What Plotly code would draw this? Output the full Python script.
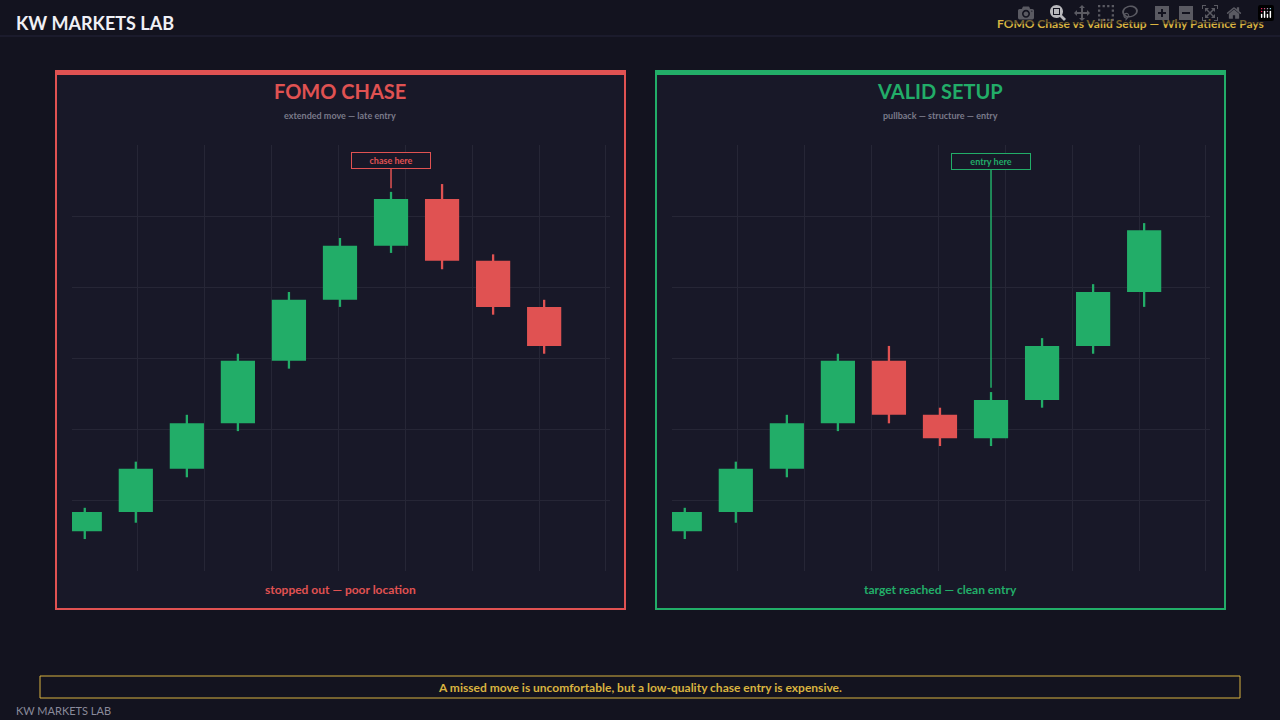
import plotly.graph_objects as go

# candle index positions
x_idx = list(range(10))

# FOMO chase panel
fomo_open = [0.56, 0.83, 1.44, 2.08, 2.96, 3.82, 4.58, 5.24, 4.37, 3.72]
fomo_close = [0.83, 1.44, 2.08, 2.96, 3.82, 4.58, 5.24, 4.37, 3.72, 3.17]
fomo_high = [0.89, 1.54, 2.20, 3.06, 3.93, 4.69, 5.34, 5.45, 4.46, 3.82]
fomo_low = [0.45, 0.68, 1.32, 1.97, 2.85, 3.72, 4.48, 4.25, 3.61, 3.06]

# Valid setup panel
valid_open = [0.56, 0.83, 1.44, 2.08, 2.96, 2.20, 1.87, 2.41, 3.17, 3.93]
valid_close = [0.83, 1.44, 2.08, 2.96, 2.20, 1.87, 2.41, 3.17, 3.93, 4.80]
valid_high = [0.89, 1.54, 2.20, 3.06, 3.17, 2.30, 2.52, 3.28, 4.04, 4.90]
valid_low = [0.45, 0.68, 1.32, 1.97, 2.08, 1.76, 1.76, 2.30, 3.06, 3.72]

RED = "#e05252"
GREEN = "#22ad68"
GOLD = "#d9b340"
BG = "#13131f"
PANEL = "#181828"
FONT = "Lato"

fig = go.Figure()


def add_candles(o, c, h, l, xa, ya):
    cols = [GREEN if cc >= oo else RED for oo, cc in zip(o, c)]
    fig.add_trace(go.Bar(x=x_idx, y=[hh - ll for hh, ll in zip(h, l)], base=l, width=0.045,
                         marker=dict(color=cols, line=dict(width=0)), xaxis=xa, yaxis=ya,
                         hoverinfo="skip", showlegend=False))
    fig.add_trace(go.Bar(x=x_idx, y=[cc - oo for oo, cc in zip(o, c)], base=o, width=0.67,
                         marker=dict(color=cols, line=dict(width=0)), xaxis=xa, yaxis=ya,
                         showlegend=False))


add_candles(fomo_open, fomo_close, fomo_high, fomo_low, "x", "y")
add_candles(valid_open, valid_close, valid_high, valid_low, "x2", "y2")

ax_common = dict(showgrid=True, gridcolor="#262636", gridwidth=1, zeroline=False,
                 showticklabels=False, showline=False, ticks="")
y_dom = [1 - 571 / 720, 1 - 145 / 720]

fig.update_layout(
    width=1280, height=720, margin=dict(l=0, r=0, t=0, b=0),
    paper_bgcolor=BG, plot_bgcolor=PANEL, barmode="overlay",
    font=dict(family=FONT),
    xaxis=dict(domain=[72 / 1280, 610 / 1280], range=[-0.25, 10.29], tick0=1.04, dtick=1.31, **ax_common),
    yaxis=dict(domain=y_dom, range=[0, 6], dtick=1, **ax_common),
    xaxis2=dict(domain=[672 / 1280, 1210 / 1280], range=[-0.25, 10.29], tick0=1.04, dtick=1.31,
                anchor="y2", **ax_common),
    yaxis2=dict(domain=y_dom, range=[0, 6], dtick=1, anchor="x2", **ax_common),
)

shapes = [
    dict(type="line", xref="paper", yref="paper", x0=0, x1=1, y0=1 - 36 / 720, y1=1 - 36 / 720,
         line=dict(color="#25253a", width=1)),
    dict(type="rect", xref="paper", yref="paper", x0=40 / 1280, x1=1240 / 1280,
         y0=1 - 698 / 720, y1=1 - 676 / 720, line=dict(color=GOLD, width=1), fillcolor=BG),
]
for x0, col in [(56, RED), (656, GREEN)]:
    shapes.append(dict(type="rect", xref="paper", yref="paper", x0=x0 / 1280, x1=(x0 + 569) / 1280,
                       y0=1 - 609 / 720, y1=1 - 72 / 720, line=dict(color=col, width=2), layer="below",
                       fillcolor=PANEL))
    shapes.append(dict(type="rect", xref="paper", yref="paper", x0=(x0 - 1) / 1280, x1=(x0 + 570) / 1280,
                       y0=1 - 75 / 720, y1=1 - 70 / 720, line=dict(width=0), fillcolor=col))
fig.update_layout(shapes=shapes)


def txt(x, y, s, size, color, bold=True, xanchor="center"):
    return dict(x=x / 1280, y=1 - y / 720, xref="paper", yref="paper", showarrow=False,
                text=f"<b>{s}</b>" if bold else s, xanchor=xanchor, yanchor="middle",
                font=dict(size=size, color=color, family=FONT))


anns = [
    txt(14, 23, "KW MARKETS LAB", 18, "#f0f0f5", xanchor="left"),
    txt(1266, 23, "FOMO Chase vs Valid Setup — Why Patience Pays", 12, GOLD, xanchor="right"),
    txt(340, 91, "FOMO CHASE", 20, RED),
    txt(340, 116, "extended move — late entry", 9, "#7a7a8a"),
    txt(340, 589, "stopped out — poor location", 12, RED),
    txt(940, 91, "VALID SETUP", 20, GREEN),
    txt(940, 116, "pullback — structure — entry", 9, "#7a7a8a"),
    txt(940, 589, "target reached — clean entry", 12, GREEN),
    txt(640, 687, "A missed move is uncomfortable, but a low-quality chase entry is expensive.", 12, GOLD),
    txt(14, 710, "KW MARKETS LAB", 11, "#8a8a9a", bold=False, xanchor="left"),
    dict(x=6, y=5.39, xref="x", yref="y", text="<b>chase here</b>", showarrow=True, arrowhead=0,
         arrowwidth=1.5, arrowcolor=RED, ax=0, ay=-28, bordercolor=RED, borderwidth=1,
         borderpad=2, bgcolor=PANEL, width=74, font=dict(size=9, color=RED, family=FONT)),
    dict(x=6, y=2.58, xref="x2", yref="y2", text="<b>entry here</b>", showarrow=True, arrowhead=0,
         arrowwidth=1.5, arrowcolor=GREEN, ax=0, ay=-226, bordercolor=GREEN, borderwidth=1,
         borderpad=2, bgcolor=PANEL, width=74, font=dict(size=9, color=GREEN, family=FONT)),
]
fig.update_layout(annotations=anns)

fig.write_html("out.html")

# drop the browser's default body margin so the figure sits at the page corner
with open("out.html", encoding="utf-8") as f:
    html = f.read()
html = html.replace("<body>", f'<body style="margin:0;background:{BG}">', 1)
with open("out.html", "w", encoding="utf-8") as f:
    f.write(html)
